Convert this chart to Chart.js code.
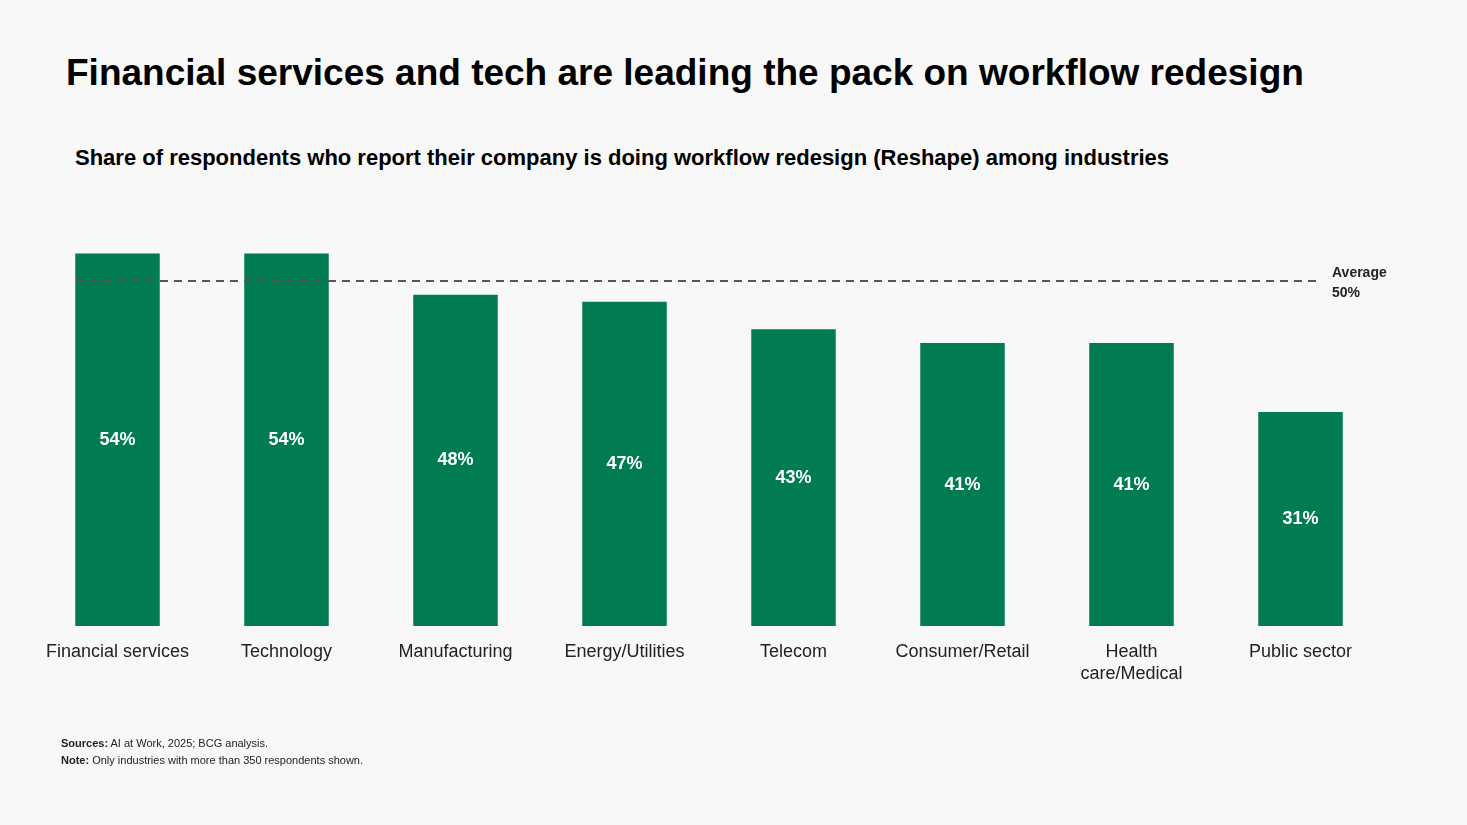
<!DOCTYPE html>
<html lang="en">
<head>
<meta charset="UTF-8" />
<title>Workflow redesign by industry</title>
<script src="https://cdn.jsdelivr.net/npm/chart.js"></script>
<style>
  body { margin: 0; background: #f8f8f8; font-family: 'Liberation Sans', Arial, sans-serif; color: #000; }
  #wrap { position: relative; width: 1467px; height: 825px; overflow: hidden; }
  h1 { position: absolute; left: 66px; top: 52px; margin: 0; font-size: 37px; font-weight: bold; }
  h2 { position: absolute; left: 75px; top: 145px; margin: 0; font-size: 22px; font-weight: bold; }
  #notes { position: absolute; left: 61px; top: 735px; font-size: 11px; line-height: 17px; color: #222; }
  canvas { position: absolute; left: 0; top: 0; }
</style>
</head>
<body>
<div id="wrap">
  <h1>Financial services and tech are leading the pack on workflow redesign</h1>
  <h2>Share of respondents who report their company is doing workflow redesign (Reshape) among industries</h2>
  <canvas id="chart" width="1467" height="825"></canvas>
  <div id="notes">
    <div><b>Sources:</b> AI at Work, 2025; BCG analysis.</div>
    <div><b>Note:</b> Only industries with more than 350 respondents shown.</div>
  </div>
</div>
<script>
  const industries = ['Financial services', 'Technology', 'Manufacturing', 'Energy/Utilities', 'Telecom', 'Consumer/Retail', ['Health', 'care/Medical'], 'Public sector'];
  const shares = [54, 54, 48, 47, 43, 41, 41, 31];
  const average = 50;

  // labels, values and the average line are drawn here
  const extras = {
    id: 'extras',
    afterDatasetsDraw(chart) {
      const ctx = chart.ctx, x = chart.scales.x, y = chart.scales.y;
      ctx.save();
      ctx.textAlign = 'center';
      ctx.textBaseline = 'middle';
      ctx.fillStyle = '#fff';
      ctx.font = 'bold 18px "Liberation Sans", Arial, sans-serif';
      shares.forEach((v, i) => {
        ctx.fillText(v + '%', x.getPixelForValue(i), (y.getPixelForValue(v) + y.getPixelForValue(0)) / 2);
      });
      ctx.fillStyle = '#222';
      ctx.font = '18px "Liberation Sans", Arial, sans-serif';
      industries.forEach((lab, i) => {
        const lines = Array.isArray(lab) ? lab : [lab];
        lines.forEach((l, j) => ctx.fillText(l, x.getPixelForValue(i), y.getPixelForValue(0) + 26 + j * 22));
      });
      const ay = y.getPixelForValue(average);
      ctx.strokeStyle = '#555';
      ctx.lineWidth = 2;
      ctx.setLineDash([8, 6]);
      ctx.beginPath();
      ctx.moveTo(chart.chartArea.left + 43, ay);
      ctx.lineTo(1320, ay);
      ctx.stroke();
      ctx.textAlign = 'left';
      ctx.fillStyle = '#222';
      ctx.font = 'bold 14px "Liberation Sans", Arial, sans-serif';
      ctx.fillText('Average', 1332, ay - 8);
      ctx.fillText(average + '%', 1332, ay + 12);
      ctx.restore();
    }
  };

  new Chart(document.getElementById('chart'), {
    type: 'bar',
    data: {
      labels: industries,
      datasets: [{ data: shares, backgroundColor: '#007b52', barPercentage: 0.5, categoryPercentage: 1 }]
    },
    options: {
      responsive: false,
      animation: false,
      layout: { padding: { left: 33, right: 82, top: 212, bottom: 199 } },
      plugins: { legend: { display: false }, tooltip: { enabled: false } },
      scales: {
        x: { display: false },
        y: { display: false, min: 0, max: 60 }
      }
    },
    plugins: [extras]
  });
</script>
</body>
</html>
